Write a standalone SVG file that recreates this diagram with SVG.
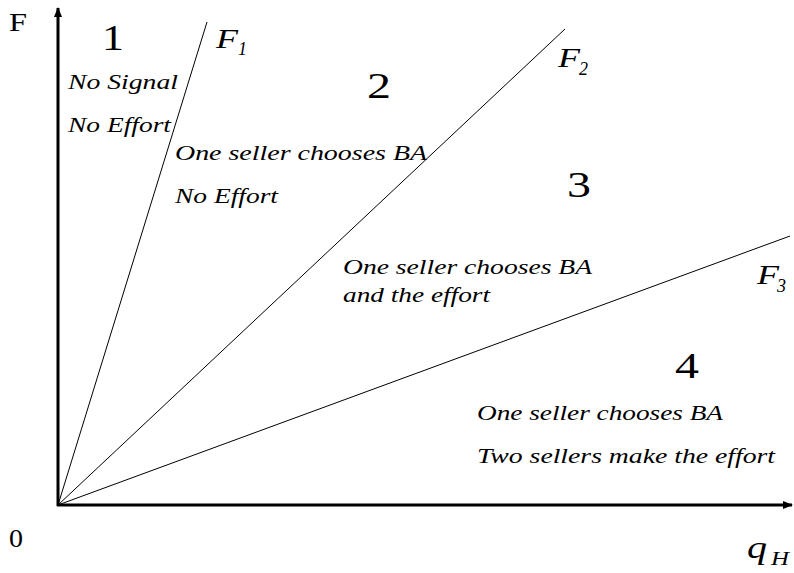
<svg xmlns="http://www.w3.org/2000/svg" width="794" height="573" viewBox="0 0 794 573" font-family="'Liberation Serif', serif">
<defs>
<marker id="ah" markerWidth="10" markerHeight="8" refX="9" refY="4" orient="auto" markerUnits="userSpaceOnUse">
<path d="M0,0 L10,4 L0,8 Z" fill="#000"/>
</marker>
</defs>
<style>
text{font-family:'Liberation Serif',serif;fill:#000}
.it{font-style:italic;font-size:22px}
.num{font-size:35px}
.lbl{font-style:italic;font-size:27px}
.sub{font-style:italic;font-size:18px}
.ax{stroke:#000;stroke-width:3;fill:none}
.ln{stroke:#000;stroke-width:1;fill:none}
</style>
<rect width="794" height="573" fill="#fff"/>
<g id="connectors">
<line class="ax" x1="58" y1="506" x2="58" y2="8" marker-end="url(#ah)"/>
<line class="ax" x1="57" y1="505" x2="792" y2="505" marker-end="url(#ah)"/>
<line class="ln" x1="58" y1="505" x2="207" y2="22"/>
<line class="ln" x1="58" y1="505" x2="565" y2="29"/>
<line class="ln" x1="58" y1="505" x2="790" y2="236"/>
</g>
<g id="axis-labels">
<text x="9" y="31" font-size="25" textLength="18" lengthAdjust="spacingAndGlyphs">F</text>
<text x="9" y="547" font-size="25" textLength="14" lengthAdjust="spacingAndGlyphs">0</text>
<text x="747" y="558" font-style="italic" font-size="32" textLength="20" lengthAdjust="spacingAndGlyphs">q</text>
<text x="771" y="565" font-style="italic" font-size="18" textLength="18" lengthAdjust="spacingAndGlyphs">H</text>
</g>
<g id="F1"><text x="216" y="48" class="lbl" textLength="22" lengthAdjust="spacingAndGlyphs">F</text><text x="238" y="55" class="sub">1</text></g>
<g id="F2"><text x="558" y="67" class="lbl" textLength="22" lengthAdjust="spacingAndGlyphs">F</text><text x="579" y="75" class="sub">2</text></g>
<g id="F3"><text x="757" y="284" class="lbl" textLength="22" lengthAdjust="spacingAndGlyphs">F</text><text x="777" y="292" class="sub">3</text></g>
<g id="region1">
<text x="102" y="50" class="num" textLength="22" lengthAdjust="spacingAndGlyphs">1</text>
<text x="68" y="89" class="it" textLength="110" lengthAdjust="spacingAndGlyphs">No Signal</text>
<text x="68" y="132" class="it" textLength="103" lengthAdjust="spacingAndGlyphs">No Effort</text>
</g>
<g id="region2">
<text x="367" y="98" class="num" textLength="24" lengthAdjust="spacingAndGlyphs">2</text>
<text x="175" y="160" class="it" textLength="252" lengthAdjust="spacingAndGlyphs">One seller chooses BA</text>
<text x="175" y="203" class="it" textLength="103" lengthAdjust="spacingAndGlyphs">No Effort</text>
</g>
<g id="region3">
<text x="567" y="197" class="num" textLength="24" lengthAdjust="spacingAndGlyphs">3</text>
<text x="343" y="274" class="it" textLength="249" lengthAdjust="spacingAndGlyphs">One seller chooses BA</text>
<text x="343" y="302" class="it" textLength="147" lengthAdjust="spacingAndGlyphs">and the effort</text>
</g>
<g id="region4">
<text x="675" y="378" class="num" textLength="24" lengthAdjust="spacingAndGlyphs">4</text>
<text x="477" y="420" class="it" textLength="246" lengthAdjust="spacingAndGlyphs">One seller chooses BA</text>
<text x="477" y="463" class="it" textLength="298" lengthAdjust="spacingAndGlyphs">Two sellers make the effort</text>
</g>
</svg>
